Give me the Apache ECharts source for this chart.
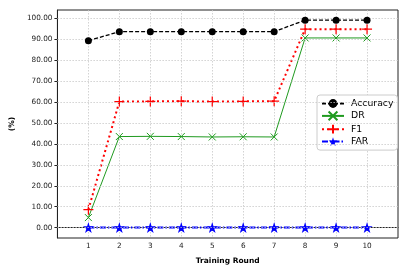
<!DOCTYPE html>
<html>
<head>
<meta charset="utf-8">
<script src="https://cdn.jsdelivr.net/npm/echarts@6/dist/echarts.min.js"></script>
<style>html,body{margin:0;padding:0;background:#fff}#c{width:409px;height:273px}</style>
</head>
<body>
<div id="c"></div>
<script>
const rounds = [1,2,3,4,5,6,7,8,9,10];
const accuracy = [89.3,93.6,93.6,93.6,93.6,93.6,93.6,99.1,99.1,99.1];
const dr = [4.8,43.5,43.6,43.5,43.3,43.4,43.3,90.6,90.6,90.6];
const f1 = [8.6,60.2,60.3,60.4,60.2,60.3,60.4,94.8,94.8,94.8];
const far = [0.1,0.1,0.1,0.1,0.1,0.1,0.1,0.1,0.1,0.1];
const yTicks = [0,10,20,30,40,50,60,70,80,90,100];
const names = ['Accuracy','DR','F1','FAR'];

const xPath = 'path://M0,0 L10,10 M10,0 L0,10';
const plusPath = 'path://M5,0 L5,10 M0,5 L10,5';
const starPath = 'path://M50,0 L61,35 L98,35 L68,57 L79,91 L50,70 L21,91 L32,57 L2,35 L39,35 Z';

function pts(arr){ return rounds.map((r,i)=>[r,arr[i]]); }

const chart = echarts.init(document.getElementById('c'), null, {renderer:'canvas'});
const font = 'DejaVu Sans';
chart.setOption({
  animation:false,
  textStyle:{fontFamily:font},
  grid:{left:53,right:11,top:10,bottom:35,show:true,borderColor:'#222',borderWidth:1},
  xAxis:{
    type:'value',min:0,max:11,interval:1,
    name:'Training Round',nameLocation:'middle',nameGap:19,
    nameTextStyle:{fontFamily:font,fontWeight:'bold',fontSize:7.5,color:'#000'},
    axisLine:{lineStyle:{color:'#222',width:1}},
    axisTick:{show:true,inside:false,length:3,lineStyle:{color:'#222'},customValues:rounds},
    axisLabel:{fontFamily:font,fontSize:7.3,color:'#222',margin:5,customValues:rounds},
    splitLine:{show:true,lineStyle:{type:[1.5,1.5],color:'#c8c8c8',width:0.8}}
  },
  yAxis:{
    type:'value',min:-4.95,max:103.95,
    name:'(%)',nameLocation:'middle',nameGap:38,nameRotate:90,
    nameTextStyle:{fontFamily:font,fontWeight:'bold',fontSize:7.5,color:'#000'},
    axisLine:{show:true,lineStyle:{color:'#222',width:1}},
    axisTick:{show:true,inside:false,length:3,lineStyle:{color:'#222'},customValues:yTicks},
    axisLabel:{fontFamily:font,fontSize:7.3,color:'#222',margin:5,customValues:yTicks,
      formatter:v=>v.toFixed(2)},
    splitLine:{show:false}
  },
  legend:{
    data:names,orient:'vertical',left:317,top:95,
    itemWidth:22,itemHeight:11,itemGap:2.5,
    backgroundColor:'#fff',borderColor:'#ccc',borderWidth:1,borderRadius:3,
    padding:[4,4,4,4],
    textStyle:{fontFamily:font,fontSize:9.3,color:'#000',padding:[0,0,0,2]}
  },
  series:[
    {type:'line',name:'_grid',data:[],silent:true,z:0,
     markLine:{silent:true,symbol:['none','none'],label:{show:false},
       lineStyle:{type:[1.5,1.5],color:'#c8c8c8',width:0.8},
       data:yTicks.map(v=>({yAxis:v}))}},
    {type:'line',name:'Accuracy',data:pts(accuracy),z:5,
     symbol:'circle',symbolSize:7,showAllSymbol:true,
     lineStyle:{color:'#000',width:1.3,type:[4,2]},
     itemStyle:{color:'#000'}},
    {type:'line',name:'DR',data:pts(dr),z:4,
     symbol:xPath,symbolSize:7,
     lineStyle:{color:'#1f9a1f',width:1},
     itemStyle:{color:'transparent',borderColor:'#1f9a1f',borderWidth:1}},
    {type:'line',name:'F1',data:pts(f1),z:4,
     symbol:plusPath,symbolSize:10,
     lineStyle:{color:'#ff0000',width:2,type:[2,3]},
     itemStyle:{color:'transparent',borderColor:'#ff0000',borderWidth:1.2}},
    {type:'line',name:'FAR',data:pts(far),z:4,
     symbol:starPath,symbolSize:11,
     lineStyle:{color:'#0000ff',width:2,type:[6,2,1.5,2]},
     itemStyle:{color:'#0000ff'}}
  ]
});
</script>
</body>
</html>
